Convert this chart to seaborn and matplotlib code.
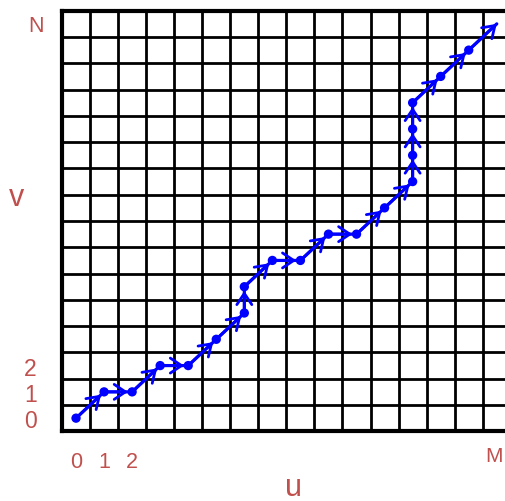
import matplotlib
matplotlib.use("Agg")
import matplotlib.pyplot as plt
import numpy as np
import pandas as pd
import seaborn as sns

# Warping path through the (u, v) alignment grid, in cell indices
path_u = [0, 1, 2, 3, 4, 5, 6, 6, 7, 8, 9, 10, 11, 12, 12, 12, 12, 13, 14, 15]
path_v = [0, 1, 1, 2, 2, 3, 4, 5, 6, 6, 7, 7, 8, 9, 10, 11, 12, 13, 14, 15]

# Grid size and axis annotations
n_cols = 16
n_rows = 16
u_tick_values = [0, 1, 2]
u_tick_labels = ["0", "1", "2"]
v_tick_values = [0, 1, 2]
v_tick_labels = ["0", "1", "2"]
u_end_label = "M"
v_end_label = "N"
u_axis_label = "u"
v_axis_label = "v"

sns.set_theme(style="white")
plt.rcParams["font.family"] = ["Liberation Sans", "DejaVu Sans"]

LABEL_COLOR = "#C0504D"
PATH_COLOR = "#0000FF"

W, H = 506, 502
fig = plt.figure(figsize=(W / 100, H / 100), dpi=100)
ax = fig.add_axes([62 / W, (H - 432.3) / H, 448.8 / W, 420.6 / H])

df = pd.DataFrame({"u": path_u, "v": path_v})

# cell boundaries drawn as the grid
ax.set_xlim(-0.5, n_cols - 0.5)
ax.set_ylim(-0.5, n_rows - 0.5)
ax.set_xticks(np.arange(-0.5, n_cols, 1.0), minor=True)
ax.set_yticks(np.arange(-0.5, n_rows, 1.0), minor=True)
ax.grid(which="minor", color="black", linewidth=2.0)
ax.grid(which="major", visible=False)
ax.set_axisbelow(True)
for sp in ax.spines.values():
    sp.set_visible(True)
    sp.set_color("black")
    sp.set_linewidth(3.0)

# path line and points
sns.lineplot(data=df, x="u", y="v", sort=False, estimator=None,
             color=PATH_COLOR, linewidth=2.3, ax=ax, zorder=3)
sns.scatterplot(data=df.iloc[:-1], x="u", y="v", color=PATH_COLOR,
                s=45, edgecolor="none", ax=ax, zorder=5)

# direction arrows at the end of each step
for i in range(len(path_u) - 1):
    last = i == len(path_u) - 2
    ax.annotate(
        "", xy=(path_u[i + 1], path_v[i + 1]), xytext=(path_u[i], path_v[i]),
        arrowprops=dict(arrowstyle="->,head_length=0.45,head_width=0.3",
                        color=PATH_COLOR, lw=2.0, shrinkA=0,
                        shrinkB=0 if last else 3, mutation_scale=18),
        zorder=4,
    )

# tick labels for the first few cells
ax.set_xticks(u_tick_values)
ax.set_xticklabels(u_tick_labels)
ax.set_yticks(v_tick_values)
ax.set_yticklabels(v_tick_labels)
ax.tick_params(axis="x", which="both", length=0, pad=14, labelsize=15.5,
               labelcolor=LABEL_COLOR)
ax.tick_params(axis="y", which="both", length=0, pad=18, labelsize=16.5,
               labelcolor=LABEL_COLOR)
ax.set_xlabel("")
ax.set_ylabel("")


def fig_text(x, y, s, size, **kw):
    fig.text(x / W, 1 - y / H, s, fontsize=size, color=LABEL_COLOR,
             ha="center", va="baseline", **kw)


fig_text(36, 31.7, v_end_label, 15.5)
fig_text(494, 461.7, u_end_label, 15)
fig_text(17, 206.5, v_axis_label, 22)
fig_text(294, 496.5, u_axis_label, 22)

fig.savefig("out.png", dpi=100)
